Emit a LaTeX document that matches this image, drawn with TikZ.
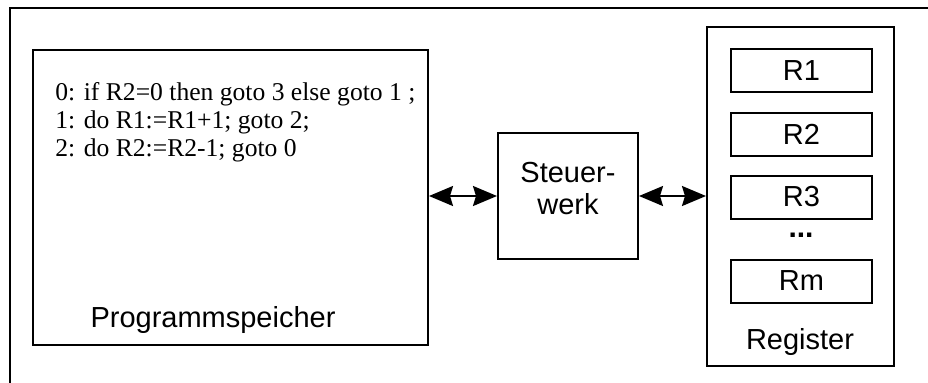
\documentclass[tikz,border=0pt]{standalone}
\usepackage{fontspec}
\setmainfont{Liberation Serif}
\setsansfont{Liberation Sans}
\usetikzlibrary{arrows.meta, positioning}
\tikzset{
  % plain rectangular unit box, size given in pt
  unit/.style 2 args={
    rectangle, draw=black, fill=white, line width=1pt,
    minimum width=#1, minimum height=#2, inner sep=0pt
  },
  regbox/.style={unit={70.5pt}{21.5pt}, font=\sffamily\fontsize{14.5}{16}\selectfont},
  lbl/.style={font=\sffamily\fontsize{14.5}{16}\selectfont, align=center, inner sep=0pt},
  prgtext/.style={font=\fontsize{12.8}{14}\selectfont, align=left, inner sep=0pt},
  arr/.style={{Stealth[length=12pt,width=10pt,inset=1.5pt]}-{Stealth[length=12pt,width=10pt,inset=1.5pt]}, line width=1pt}
}
\begin{document}
\begin{tikzpicture}[x=0.5pt, y=-0.5pt]

  \clip (0,0) rectangle (928,382);
  \fill[white] (0,0) rectangle (928,382);

  %% -- outer frame (runs off the page at right and bottom) ------------------
  \node[unit={470pt}{195pt}, anchor=north west, fill=none] (frame) at (9,7) {};

  %% -- program memory ------------------------------------------------------
  \node[unit={197.5pt}{147.5pt}] (prog) at (230.5,197.5) {};
  \node[prgtext, anchor=west] (code) at (55,122)
    {0: if R2=0 then goto 3 else goto 1 ;\\
     1: do R1:=R1+1; goto 2;\\
     2: do R2:=R2-1; goto 0};
  \node[lbl] (progl) at (213,320) {Programmspeicher};

  %% -- control unit ---------------------------------------------------------
  \node[unit={70pt}{63pt}] (steuer) at (568,196) {};
  \node[lbl] (steuerl) at (568,189) {Steuer-\\werk};

  %% -- register bank --------------------------------------------------------
  \node[unit={93.5pt}{169.5pt}] (reg) at (800.5,196.5) {};
  \node[regbox] (r1) at (801.5,70.5) {R1};
  \node[regbox] (r2) at (801.5,134)  {R2};
  \node[regbox] (r3) at (801.5,197)  {R3};
  \node[lbl, font=\sffamily\bfseries\fontsize{15}{16}\selectfont] (dots) at (801,235) {...};
  \node[regbox] (rm) at (801.5,281)  {Rm};
  \node[lbl] (regl) at (800,342) {Register};

  %% -- connections ----------------------------------------------------------
  \draw[arr] (steuer.west -| prog.east) -- (steuer.west);
  \draw[arr] (steuer.east) -- (steuer.east -| reg.west);

\end{tikzpicture}
\end{document}
